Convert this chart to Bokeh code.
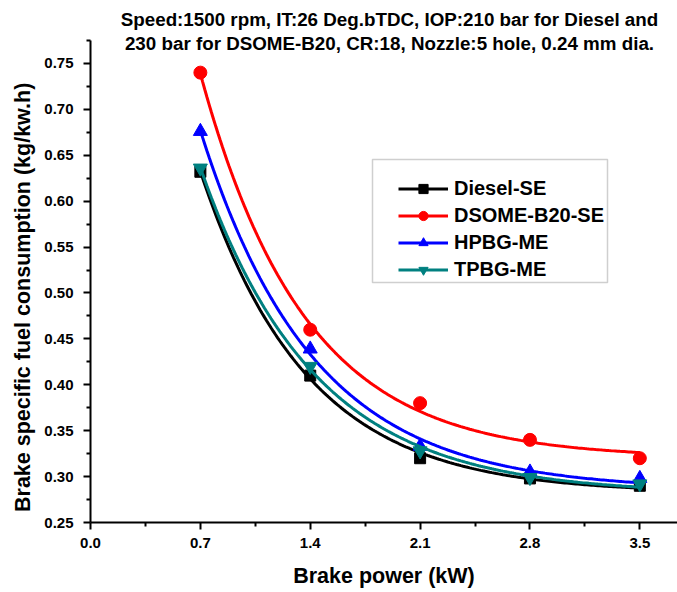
import numpy as np
from bokeh.plotting import figure
from bokeh.models import (Range1d, FixedTicker, Label, Legend, LegendItem, BoxAnnotation,
                          CustomJSTickFormatter)
from bokeh.embed import file_html
from bokeh.resources import INLINE

# ---------------- data ----------------
brake_power = [0.7, 1.4, 2.1, 2.8, 3.5]
diesel_se = [0.632, 0.410, 0.320, 0.298, 0.290]
dsome_b20_se = [0.740, 0.460, 0.380, 0.340, 0.320]
hpbg_me = [0.676, 0.439, 0.333, 0.305, 0.298]
tpbg_me = [0.636, 0.420, 0.328, 0.299, 0.292]

series_names = ["Diesel-SE", "DSOME-B20-SE", "HPBG-ME", "TPBG-ME"]
x_ticks = [0.0, 0.7, 1.4, 2.1, 2.8, 3.5]
y_ticks = [0.25, 0.30, 0.35, 0.40, 0.45, 0.50, 0.55, 0.60, 0.65, 0.70, 0.75]
title_lines = ["Speed:1500 rpm, IT:26 Deg.bTDC, IOP:210 bar for Diesel and",
               "230 bar for DSOME-B20, CR:18, Nozzle:5 hole, 0.24 mm dia."]
x_label = "Brake power (kW)"
y_label = "Brake specific fuel consumption (kg/kw.h)"

# ---------------- layout ----------------
W, H = 677, 592
L, R, B = 90, 0, 70
AX_TOP = 40                 # pixel where the y axis ends (value 0.775)
X0, X1 = 0.0, 3.74
Y0, YTOP = 0.25, 0.775
fw = W - L - R
fh = H - B                  # frame spans full height above the x axis
ppu_y = (fh - AX_TOP) / (YTOP - Y0)
Y1 = Y0 + fh / ppu_y


def px2x(px):
    return X0 + (px - L) / fw * (X1 - X0)


def py2y(py):
    return Y0 + (fh - py) / ppu_y


FONT = "Liberation Sans"

p = figure(width=W, height=H, output_backend="svg", toolbar_location=None,
           x_range=Range1d(X0, X1), y_range=Range1d(Y0, Y1),
           min_border_left=L, min_border_right=R, min_border_top=0, min_border_bottom=B)
p.outline_line_color = None
p.grid.visible = False
p.background_fill_color = "white"
p.border_fill_color = "white"

# axes
p.xaxis.ticker = FixedTicker(ticks=x_ticks,
                             minor_ticks=[0.35, 1.05, 1.75, 2.45, 3.15])
p.yaxis.ticker = FixedTicker(ticks=y_ticks,
                             minor_ticks=[0.275 + 0.05 * i for i in range(11)])
p.yaxis.bounds = (Y0, YTOP)
p.xaxis.formatter = CustomJSTickFormatter(code="return tick.toFixed(1);")
p.yaxis.formatter = CustomJSTickFormatter(code="return tick.toFixed(2);")
for ax in (p.xaxis[0], p.yaxis[0]):
    ax.axis_line_width = 2
    ax.axis_line_color = "black"
    ax.major_tick_line_width = 2
    ax.minor_tick_line_width = 2
    ax.major_tick_out = 7
    ax.major_tick_in = 0
    ax.minor_tick_out = 4
    ax.minor_tick_in = 0
    ax.major_label_text_font = FONT
    ax.major_label_text_font_style = "bold"
    ax.major_label_text_font_size = "15px"
    ax.major_label_text_color = "black"
    ax.axis_label_text_font = FONT
    ax.axis_label_text_font_style = "bold"
    ax.axis_label_text_font_size = "21.5px"
    ax.axis_label_text_color = "black"
p.xaxis.major_label_standoff = 8
p.yaxis.major_label_standoff = 10
p.xaxis.axis_label = x_label
p.xaxis.axis_label_standoff = 13
# pad with no-break spaces so the label's centre sits lower, as in the reference
p.yaxis.axis_label = y_label + "\u00a0" * 12
p.yaxis.axis_label_standoff = 6


# ---------------- fitted curves (ExpDec1 least squares) ----------------
def expdec_fit(x, y):
    x = np.asarray(x, float)
    y = np.asarray(y, float)
    best = None
    for t in np.linspace(0.05, 5.0, 2000):
        M = np.column_stack([np.ones_like(x), np.exp(-x / t)])
        coef, *_ = np.linalg.lstsq(M, y, rcond=None)
        err = np.sum((M @ coef - y) ** 2)
        if best is None or err < best[0]:
            best = (err, t, coef)
    _, t, coef = best
    xs = np.linspace(x.min(), x.max(), 200)
    return xs, coef[0] + coef[1] * np.exp(-xs / t)


colors = ["black", "#FF0000", "#0000FF", "#008080"]
markers = ["square", "circle", "triangle", "inverted_triangle"]
sizes = [11, 13, 14, 14]
data = [diesel_se, dsome_b20_se, hpbg_me, tpbg_me]

items = []
for name, ys, c, m, s in zip(series_names, data, colors, markers, sizes):
    fx, fy = expdec_fit(brake_power, ys)
    ln = p.line(fx, fy, line_color=c, line_width=3)
    sc = p.scatter(brake_power, ys, marker=m, size=s, fill_color=c, line_color=c)
    items.append(LegendItem(label=name, renderers=[ln, sc]))

# legend frame
p.add_layout(BoxAnnotation(left=px2x(372), right=px2x(607), top=py2y(159), bottom=py2y(282),
                           fill_alpha=0, line_color="#606060", line_width=1.5))
legend = Legend(items=items, location=(398 - L, fh - 280.5),
                padding=0, margin=0, spacing=4, glyph_width=50, glyph_height=23,
                label_height=23, label_standoff=6, border_line_alpha=0,
                background_fill_alpha=0,
                label_text_font=FONT, label_text_font_style="bold",
                label_text_font_size="20px", label_text_color="black")
p.add_layout(legend, "center")

# title lines (inside the frame area, above the axis top)
for i, line in enumerate(title_lines):
    p.add_layout(Label(x=px2x(389), y=py2y(19 + 24 * i), text=line,
                       text_align="center", text_baseline="middle",
                       text_font=FONT, text_font_style="bold", text_font_size="18.8px",
                       text_color="black"))

open("out.html", "w").write(file_html(p, INLINE))
